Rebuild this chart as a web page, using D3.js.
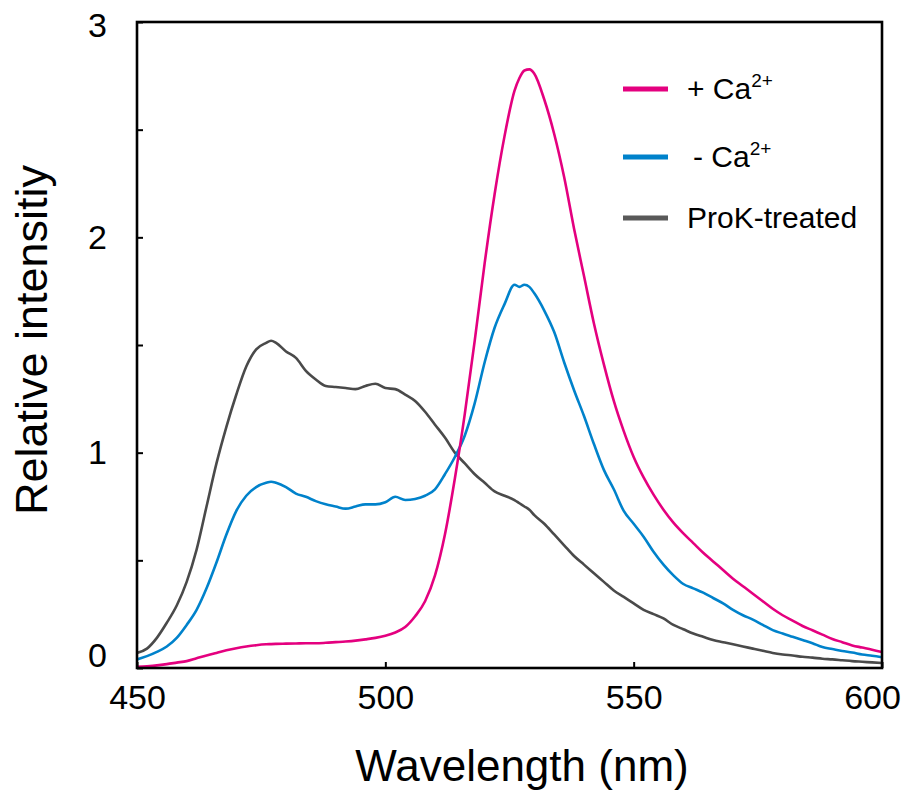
<!DOCTYPE html>
<html>
<head>
<meta charset="utf-8">
<script src="https://cdn.jsdelivr.net/npm/d3@7/dist/d3.min.js"></script>
<style>
  html, body { margin: 0; padding: 0; background: #fff; }
  svg { display: block; }
  text { font-family: "Liberation Sans", Arial, Helvetica, sans-serif; fill: #000; }
</style>
</head>
<body>
<svg id="chart" width="909" height="791"></svg>
<script>
// ---- data ----
const wavelengths = [450,452,454,456,458,460,462,464,466,468,470,472,474,476,477,478,480,482,484,486,488,490,492,494,496,498,500,502,504,506,508,510,512,514,516,518,520,522,524,526,527,528,529,530,532,534,536,538,540,542,544,546,548,550,552,554,556,558,560,562,564,566,568,570,572,574,576,578,580,582,584,586,588,590,592,594,596,598,600];

const plusCa = [0.005,0.008,0.012,0.018,0.025,0.032,0.045,0.058,0.07,0.082,0.092,0.1,0.106,0.11,0.111,0.112,0.113,0.114,0.115,0.115,0.117,0.12,0.123,0.127,0.133,0.14,0.15,0.165,0.19,0.24,0.31,0.43,0.62,0.88,1.18,1.52,1.88,2.2,2.47,2.68,2.74,2.775,2.78,2.76,2.64,2.48,2.28,2.04,1.82,1.6,1.41,1.24,1.1,0.98,0.885,0.805,0.735,0.675,0.625,0.58,0.535,0.495,0.455,0.415,0.38,0.345,0.31,0.275,0.245,0.22,0.195,0.175,0.155,0.135,0.12,0.105,0.095,0.085,0.074];

const minusCa = [0.04,0.055,0.075,0.1,0.14,0.2,0.27,0.37,0.49,0.62,0.73,0.8,0.84,0.86,0.865,0.86,0.84,0.81,0.795,0.775,0.76,0.75,0.74,0.75,0.76,0.76,0.77,0.795,0.78,0.785,0.8,0.83,0.9,0.98,1.08,1.23,1.42,1.58,1.69,1.78,1.77,1.78,1.77,1.74,1.66,1.56,1.42,1.29,1.17,1.04,0.92,0.83,0.73,0.67,0.61,0.54,0.48,0.43,0.39,0.37,0.35,0.325,0.3,0.27,0.245,0.225,0.2,0.176,0.16,0.145,0.13,0.115,0.097,0.088,0.079,0.072,0.063,0.057,0.05];

const proK = [0.07,0.09,0.14,0.21,0.29,0.4,0.55,0.75,0.95,1.12,1.27,1.4,1.48,1.51,1.52,1.51,1.47,1.44,1.38,1.34,1.31,1.305,1.3,1.295,1.31,1.32,1.3,1.295,1.27,1.24,1.19,1.13,1.07,1.0,0.95,0.9,0.86,0.82,0.8,0.78,0.765,0.75,0.735,0.71,0.67,0.62,0.57,0.52,0.48,0.44,0.4,0.36,0.33,0.3,0.27,0.25,0.23,0.2,0.18,0.16,0.145,0.13,0.12,0.11,0.1,0.09,0.08,0.07,0.063,0.058,0.052,0.048,0.043,0.04,0.036,0.032,0.029,0.026,0.023];

const xTicks = [450, 500, 550, 600];
const yTicks = [0, 0.5, 1, 1.5, 2, 2.5, 3];
const seriesNames = ["+ Ca", "- Ca", "ProK-treated"];
const seriesSup = ["2+", "2+", ""];
const seriesColors = ["#e4007f", "#0082cb", "#4a4a4a"];
const legendColors = ["#e4007f", "#0082cb", "#595959"];
const xTitle = "Wavelength (nm)";
const yTitle = "Relative intensitiy";

// ---- layout ----
const svg = d3.select("#chart");
const L = 137, R = 882, T = 22, B = 668;
const x = d3.scaleLinear().domain([450, 600]).range([L, R]);
const y = d3.scaleLinear().domain([0, 3]).range([B, T]);

const series = [plusCa, minusCa, proK];

// lines
const line = d3.line().x((d, i) => x(wavelengths[i])).y(d => y(d)).curve(d3.curveMonotoneX);
svg.append("clipPath").attr("id", "clip").append("rect")
  .attr("x", L).attr("y", T).attr("width", R - L).attr("height", B - T);
[2, 1, 0].forEach(k => {
  svg.append("path")
    .datum(series[k])
    .attr("d", line)
    .attr("fill", "none")
    .attr("stroke", seriesColors[k])
    .attr("stroke-width", 2.6)
    .attr("stroke-linejoin", "round")
    .attr("clip-path", "url(#clip)");
});

// axes
const yAxis = d3.axisLeft(y).tickValues(yTicks)
  .tickFormat(d => Number.isInteger(d) ? d3.format("d")(d) : "")
  .tickSizeInner(-6).tickSizeOuter(0).tickPadding(30);
const gy = svg.append("g").attr("transform", `translate(${L},0)`).call(yAxis);
gy.select(".domain").remove();
gy.selectAll(".tick line").attr("stroke", "#000").attr("stroke-width", 2);
gy.selectAll(".tick text").style("font-size", "34px")
  .attr("dy", d => d === 0 ? "-0.05em" : d === 3 ? "0.44em" : "0.32em");

const xAxis = d3.axisBottom(x).tickValues(xTicks).tickFormat(d3.format("d"))
  .tickSizeInner(-6).tickSizeOuter(0).tickPadding(17);
const gx = svg.append("g").attr("transform", `translate(0,${B})`).call(xAxis);
gx.select(".domain").remove();
gx.selectAll(".tick line").attr("stroke", "#000").attr("stroke-width", 2);
gx.selectAll(".tick text").style("font-size", "34px")
  .attr("dx", d => d === 600 ? "-10" : "0");

// frame
svg.append("rect").attr("x", L).attr("y", T).attr("width", R - L).attr("height", B - T)
  .attr("fill", "none").attr("stroke", "#000").attr("stroke-width", 2.6);

// titles
svg.append("text").attr("x", 522).attr("y", 781).attr("text-anchor", "middle")
  .style("font-size", "44px").text(xTitle);
svg.append("text").attr("transform", "translate(47,340) rotate(-90)").attr("text-anchor", "middle")
  .style("font-size", "45px").text(yTitle);

// legend
const legY = [89, 157, 218];
const legTextX = [687, 693, 687];
seriesNames.forEach((name, i) => {
  svg.append("line").attr("x1", 623).attr("x2", 668).attr("y1", legY[i]).attr("y2", legY[i])
    .attr("stroke", legendColors[i]).attr("stroke-width", 5);
  const t = svg.append("text").attr("x", legTextX[i]).attr("y", legY[i] + 10)
    .style("font-size", "30px");
  t.append("tspan").text(name);
  if (seriesSup[i]) {
    t.append("tspan").attr("dy", -12).style("font-size", "19px").text(seriesSup[i]);
  }
});
</script>
</body>
</html>
